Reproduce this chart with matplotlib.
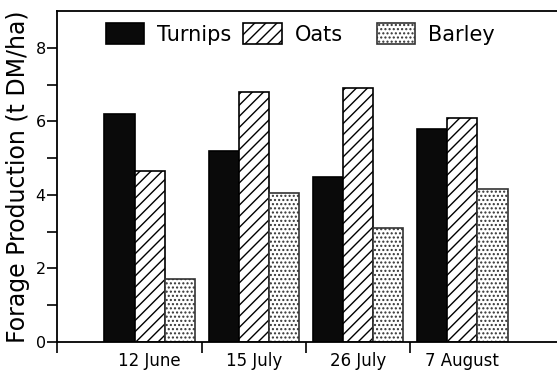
import matplotlib
matplotlib.use("Agg")
import matplotlib.pyplot as plt
import numpy as np

# Forage production (t DM/ha) by sowing date
dates = ["12 June", "15 July", "26 July", "7 August"]
turnips = [6.2, 5.2, 4.5, 5.8]
oats = [4.65, 6.8, 6.9, 6.1]
barley = [1.7, 4.05, 3.1, 4.15]
series_names = ["Turnips", "Oats", "Barley"]

plt.rcParams["font.family"] = ["DejaVu Sans"]
plt.rcParams["hatch.linewidth"] = 1.0

fig = plt.figure(figsize=(5.57, 3.72), dpi=100)
ax = fig.add_axes([0.1023, 0.0806, 0.8977, 0.8898])

x = np.arange(len(dates))
w = 0.29
b1 = ax.bar(x - w, turnips, w, color="#0a0a0a", edgecolor="black", linewidth=1.2)
b2 = ax.bar(x, oats, w, color="white", edgecolor="black", hatch="///", linewidth=1.2)
b3 = ax.bar(x + w, barley, w, color="white", edgecolor="#333333", hatch="....", linewidth=1.2)

ax.set_xlim(-0.89, 3.91)
ax.set_ylim(0, 9)

# y axis: labelled even ticks, unlabelled odd ticks
ax.set_yticks([0, 2, 4, 6, 8])
ax.set_yticks([1, 3, 5, 7], minor=True)
ax.tick_params(axis="y", which="both", direction="out", length=7, width=1.2,
               labelsize=11.5, pad=1)

# x axis: separator ticks between groups, labels centred under groups
ax.set_xticks([-0.89, 0.5, 1.5, 2.5])
ax.set_xticklabels([])
ax.set_xticks(x, minor=True)
ax.set_xticklabels(dates, minor=True)
ax.tick_params(axis="x", which="major", direction="out", length=8, width=1.2)
ax.tick_params(axis="x", which="minor", length=0, labelsize=12, pad=7)

for side in ("left", "bottom", "top"):
    ax.spines[side].set_linewidth(1.3)
ax.spines["right"].set_visible(False)

ax.set_ylabel("Forage Production (t DM/ha)", fontsize=17, labelpad=4)

# one legend entry per series, placed along the top of the plot
legend_x = [0.190, 0.437, 0.676]
for handle, name, lx in zip([b1, b2, b3], series_names, legend_x):
    fig.legend([handle], [name], loc="upper left",
               bbox_to_anchor=(lx, 0.937), bbox_transform=fig.transFigure,
               frameon=False, fontsize=15, handlelength=1.85,
               handleheight=1.15, handletextpad=0.6,
               borderpad=0, borderaxespad=0)

fig.savefig("out.png", dpi=100)
